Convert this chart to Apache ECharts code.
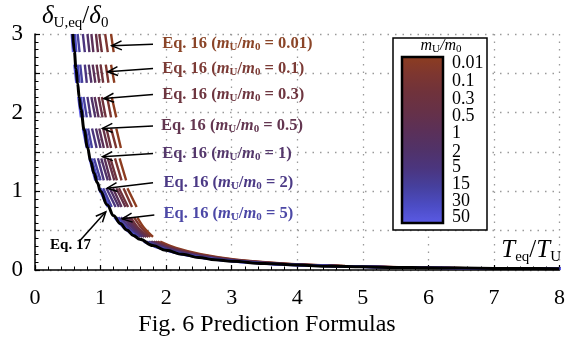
<!DOCTYPE html>
<html><head><meta charset="utf-8">
<script src="https://cdn.jsdelivr.net/npm/echarts@6/dist/echarts.min.js"></script>
<style>html,body{margin:0;padding:0;background:#fff}#c{width:568px;height:340px}</style>
</head><body><div id="c"></div>
<script>
// ---------------- data ----------------
const xTickValues = [0,1,2,3,4,5,6,7,8];
const yTickLabels = [0,1,2,3];
const titleText = 'Fig. 6 Prediction Formulas';

// Eq. 17 curve
const eq17 = [[0.577,3.0],[0.6,2.78],[0.625,2.56],[0.65,2.37],[0.675,2.19],[0.7,2.04],[0.75,1.78],[0.8,1.56],
  [0.85,1.38],[0.9,1.23],[0.95,1.11],[1.0,1.0],[1.1,0.83],[1.2,0.69],[1.3,0.59],[1.4,0.51],[1.5,0.44],
  [1.6,0.39],[1.8,0.31],[2.0,0.25],[2.25,0.2],[2.5,0.16],[2.75,0.13],[3.0,0.11],[3.5,0.082],[4.0,0.062],
  [4.5,0.049],[5.0,0.04],[5.5,0.033],[6.0,0.028],[6.5,0.024],[7.0,0.02],[7.5,0.018],[8.0,0.016]];

// Eq. 16 curves: drawn in dashes; shared y levels (null = gap between dashes)
const massRatios = ['0.01','0.1','0.3','0.5','1','2','5','15','30','50'];
const eq16Levels = [3.0,2.77,null,2.61,2.38,null,2.20,1.94,null,1.80,1.55,null,1.42,1.14,null,1.04,0.80,null,
  0.67,0.54,0.42,null,0.36,0.28,0.20,0.13,0.08,0.05,0.03,0.02,0.015];
const eq16_x_0_01 = [1.16,1.20,null,1.16,1.21,null,1.17,1.24,null,1.24,1.31,null,1.29,1.39,null,1.41,1.55,null,1.56,1.66,1.80,null,1.91,2.15,2.53,3.07,3.84,4.73,5.97,7.22,8.32];
const eq16_x_0_1  = [1.07,1.11,null,1.08,1.12,null,1.10,1.16,null,1.16,1.24,null,1.22,1.32,null,1.35,1.48,null,1.51,1.62,1.76,null,1.87,2.11,2.48,3.03,3.79,4.69,5.94,7.20,8.29];
const eq16_x_0_3  = [0.98,1.02,null,1.00,1.04,null,1.02,1.08,null,1.09,1.16,null,1.15,1.25,null,1.28,1.42,null,1.46,1.57,1.73,null,1.84,2.07,2.44,2.98,3.75,4.65,5.91,7.18,8.27];
const eq16_x_0_5  = [0.93,0.96,null,0.94,0.98,null,0.97,1.03,null,1.04,1.11,null,1.11,1.21,null,1.24,1.38,null,1.43,1.54,1.70,null,1.81,2.05,2.41,2.95,3.72,4.63,5.89,7.16,8.26];
const eq16_x_1    = [0.86,0.89,null,0.88,0.92,null,0.91,0.97,null,0.98,1.05,null,1.06,1.15,null,1.19,1.32,null,1.39,1.51,1.67,null,1.78,2.01,2.38,2.92,3.68,4.60,5.87,7.14,8.24];
const eq16_x_2    = [0.80,0.83,null,0.82,0.86,null,0.86,0.92,null,0.93,1.00,null,1.01,1.11,null,1.14,1.28,null,1.35,1.48,1.64,null,1.76,1.99,2.35,2.89,3.65,4.57,5.85,7.13,8.22];
const eq16_x_5    = [0.73,0.76,null,0.76,0.79,null,0.80,0.85,null,0.87,0.94,null,0.96,1.05,null,1.09,1.23,null,1.31,1.44,1.61,null,1.73,1.96,2.31,2.85,3.61,4.54,5.83,7.11,8.20];
const eq16_x_15   = [0.65,0.68,null,0.69,0.72,null,0.74,0.79,null,0.81,0.87,null,0.90,1.00,null,1.04,1.17,null,1.27,1.40,1.58,null,1.70,1.92,2.27,2.81,3.58,4.51,5.80,7.09,8.19];
const eq16_x_30   = [0.61,0.63,null,0.65,0.68,null,0.70,0.74,null,0.77,0.83,null,0.86,0.96,null,1.00,1.14,null,1.24,1.38,1.56,null,1.68,1.90,2.25,2.79,3.55,4.49,5.78,7.08,8.17];
const eq16_x_50   = [0.56,0.58,null,0.60,0.63,null,0.66,0.70,null,0.73,0.79,null,0.83,0.92,null,0.97,1.11,null,1.21,1.35,1.54,null,1.66,1.88,2.23,2.77,3.53,4.47,5.77,7.07,8.16];
const eq16X = [eq16_x_0_01,eq16_x_0_1,eq16_x_0_3,eq16_x_0_5,eq16_x_1,eq16_x_2,eq16_x_5,eq16_x_15,eq16_x_30,eq16_x_50];

// annotation labels (mass ratio), arrow tail / head in data units
const annotRatios = ['0.01','0.1','0.3','0.5','1','2','5'];
const annotLabelAt = [[1.94,2.88],[1.94,2.56],[1.94,2.23],[1.92,1.83],[1.94,1.48],[1.96,1.11],[1.96,0.71]];
const annotFrom = [[1.80,2.87],[1.80,2.56],[1.80,2.23],[1.80,1.83],[1.80,1.48],[1.80,1.11],[1.82,0.70]];
const annotTo   = [[1.17,2.85],[1.11,2.52],[1.05,2.18],[1.03,1.80],[1.03,1.44],[1.10,1.04],[1.33,0.65]];
const eq17LabelAt = [0.23,0.31];
const eq17From = [0.67,0.36];
const eq17To = [1.08,0.74];

// colorbar tick labels
const cbLabels = ['0.01','0.1','0.3','0.5','1','2','5','15','30','50'];
const cbLabelY = [63,81,99,116,133,152,167,184,201,217];

// ---------------- styles ----------------
const FONT = '"Liberation Serif","DejaVu Serif","Times New Roman",serif';
const curveColors = ['#8d3d20','#7d3630','#6f323c','#663148','#5b3058','#513268','#4b357e','#46409e','#4c4cc4','#5b5be6'];
const labelColors = ['#8b4528','#7c3b36','#6e3640','#633650','#55386c','#4c3a86','#4c48a6'];

const chart = echarts.init(document.getElementById('c'), null, {renderer:'canvas'});

const series = [];
eq16X.forEach((xs, k) => {
  series.push({
    name: 'Eq16 ' + massRatios[k], type: 'line', silent: true, animation: false,
    symbol: 'none', connectNulls: false, smooth: 0.3, z: 2,
    lineStyle: {width: 2.4, color: curveColors[k]},
    data: eq16Levels.map((y, i) => (y === null ? ['-','-'] : [xs[i], y]))
  });
});
series.push({
  name: 'Eq17', type: 'line', silent: true, animation: false, symbol: 'none',
  smooth: 0.4, smoothMonotone: 'x', z: 3,
  lineStyle: {width: 3, color: '#000'}, data: eq17
});

const gridLineStyle = {color: '#9a9a9a', width: 1.3, type: [1.5, 6]};

chart.setOption({
  animation: false,
  backgroundColor: '#fff',
  grid: {left: 35, right: 5, top: 34, bottom: 70, containLabel: false},
  xAxis: {
    type: 'value', min: 0, max: 8, interval: 1,
    axisLine: {show: true, onZero: false, lineStyle: {color: '#000', width: 1.5}},
    axisTick: {show: true, inside: true, length: 5, lineStyle: {color: '#000', width: 1.2}},
    minorTick: {show: true, splitNumber: 5, length: 3.5, lineStyle: {color: '#000', width: 1}},
    axisLabel: {color: '#000', fontSize: 22, fontFamily: FONT, margin: 17,
      formatter: v => (xTickValues.indexOf(v) >= 0 ? String(v) : '')},
    splitLine: {show: true, lineStyle: gridLineStyle},
    minorSplitLine: {show: false}
  },
  yAxis: {
    type: 'value', min: 0, max: 3, interval: 0.5,
    axisLine: {show: true, onZero: false, lineStyle: {color: '#000', width: 1.5}},
    axisTick: {show: true, inside: true, length: 5, lineStyle: {color: '#000', width: 1.2}},
    minorTick: {show: true, splitNumber: 5, length: 3.5, lineStyle: {color: '#000', width: 1}},
    axisLabel: {color: '#000', fontSize: 23, fontFamily: FONT, margin: 12,
      formatter: v => (yTickLabels.indexOf(v) >= 0 ? String(v) : '')},
    splitLine: {show: true, lineStyle: gridLineStyle}
  },
  series: series
});

// ---------------- annotations (graphic, positioned via axes) ----------------
const P = p => chart.convertToPixel({gridIndex: 0}, p);
const g = [];

function arrow(a, b) {
  const A = P(a), B = P(b);
  const dx = B[0]-A[0], dy = B[1]-A[1], L = Math.hypot(dx, dy);
  const ux = dx/L, uy = dy/L, nx = -uy, ny = ux, hl = 10, hw = 4.5;
  g.push({type:'line', z: 50, shape:{x1:A[0],y1:A[1],x2:B[0],y2:B[1]}, style:{stroke:'#000', lineWidth:1.5}});
  g.push({type:'polyline', z: 50, shape:{points:[[B[0]-hl*ux+hw*nx, B[1]-hl*uy+hw*ny],[B[0],B[1]],[B[0]-hl*ux-hw*nx, B[1]-hl*uy-hw*ny]]},
    style:{stroke:'#000', lineWidth:1.5, fill:null}});
}

annotRatios.forEach((r, i) => {
  arrow(annotFrom[i], annotTo[i]);
  const L = P(annotLabelAt[i]);
  const c = labelColors[i];
  const base = {fontFamily: FONT, fontWeight: 'bold', fontSize: 16.5, fill: c, lineHeight: 18};
  g.push({type:'text', z: 60, x: L[0], y: L[1], style: {
    text: '{b|Eq. 16 (}{i|m}{s|U}{b|/}{i|m}{s|0}{b| = ' + r + ')}',
    verticalAlign: 'middle', align: 'left',
    rich: {
      b: base,
      i: Object.assign({}, base, {fontStyle: 'italic'}),
      s: Object.assign({}, base, {fontSize: 11, verticalAlign: 'bottom', lineHeight: 18})
    }}});
});

arrow(eq17From, eq17To);
(function(){
  const L = P(eq17LabelAt);
  g.push({type:'text', z: 60, x: L[0], y: L[1], style: {text: 'Eq. 17', fontFamily: FONT, fontWeight: 'bold',
    fontSize: 15, fill: '#000', verticalAlign: 'middle', align: 'left'}});
})();

// axis names
g.push({type:'text', z: 60, x: 42, y: 16, style: {
  text: '{i|δ}{s|U,eq}{n|/}{i|δ}{s|0}', verticalAlign: 'middle', align: 'left',
  rich: {
    i: {fontFamily: FONT, fontSize: 25, fontStyle: 'italic', fill: '#000', lineHeight: 26},
    n: {fontFamily: FONT, fontSize: 25, fill: '#000', lineHeight: 26},
    s: {fontFamily: FONT, fontSize: 15, fill: '#000', verticalAlign: 'bottom', lineHeight: 26, padding: [0,0,-2,0]}
  }}});
g.push({type:'text', z: 60, x: 561, y: 250, style: {
  text: '{i|T}{s|eq}{n|/}{i|T}{s|U}', verticalAlign: 'middle', align: 'right',
  rich: {
    i: {fontFamily: FONT, fontSize: 25, fontStyle: 'italic', fill: '#000', lineHeight: 26},
    n: {fontFamily: FONT, fontSize: 25, fill: '#000', lineHeight: 26},
    s: {fontFamily: FONT, fontSize: 15, fill: '#000', verticalAlign: 'bottom', lineHeight: 26, padding: [0,0,-2,0]}
  }}});

// title (below chart)
g.push({type:'text', z: 60, x: 267, y: 325, style: {text: titleText, fontFamily: FONT, fontSize: 24,
  fill: '#000', align: 'center', verticalAlign: 'middle'}});

// colour-bar legend
g.push({type:'rect', z: 70, shape: {x: 393, y: 38, width: 94, height: 192}, style: {fill: '#fff', stroke: '#000', lineWidth: 1.5}});
g.push({type:'rect', z: 71, shape: {x: 402, y: 57, width: 41, height: 166}, style: {
  fill: new echarts.graphic.LinearGradient(0, 0, 0, 1, curveColors.map((c, i) => ({offset: i/(curveColors.length-1), color: c}))),
  stroke: '#000', lineWidth: 2.5}});
g.push({type:'text', z: 72, x: 441, y: 46, style: {
  text: '{i|m}{s|U}{n|/}{i|m}{s|0}', align: 'center', verticalAlign: 'middle',
  rich: {
    i: {fontFamily: FONT, fontSize: 16, fontStyle: 'italic', fill: '#000', lineHeight: 18},
    n: {fontFamily: FONT, fontSize: 16, fontStyle: 'italic', fill: '#000', lineHeight: 18},
    s: {fontFamily: FONT, fontSize: 11, fill: '#000', verticalAlign: 'bottom', lineHeight: 18}
  }}});
cbLabels.forEach((t, i) => {
  g.push({type:'text', z: 72, x: 452, y: cbLabelY[i], style: {text: t, fontFamily: FONT, fontSize: 18, fill: '#000',
    align: 'left', verticalAlign: 'middle'}});
});

chart.setOption({graphic: g});
</script>
</body></html>
